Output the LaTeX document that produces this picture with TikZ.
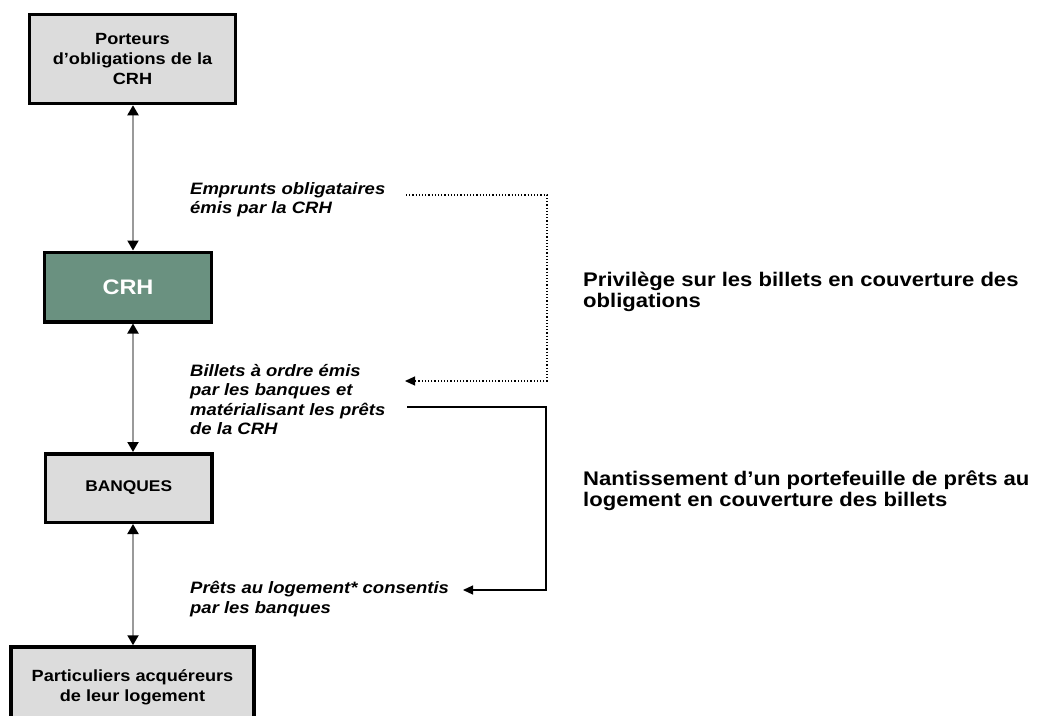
\documentclass[tikz,border=0pt]{standalone}
\usepackage{fontspec}
\setmainfont{Liberation Sans}[FakeStretch=1.12]
\usetikzlibrary{arrows.meta}
\definecolor{boxgray}{HTML}{DCDCDC}
\definecolor{crhgreen}{HTML}{6A9180}
\definecolor{linegray}{HTML}{9A9A9A}
\begin{document}
\begin{tikzpicture}[x=1pt,y=-1pt,
  box/.style={draw=black, line width=3.5pt, fill=boxgray, align=center, inner sep=0pt,
    font=\bfseries\fontsize{16.2}{20}\selectfont},
  lbl/.style={anchor=north west, align=left, inner sep=0pt,
    font=\bfseries\itshape\fontsize{16.5}{19.5}\selectfont},
  side/.style={anchor=north west, align=left, inner sep=0pt,
    font=\bfseries\fontsize{19.7}{20.5}\selectfont},
  biarrow/.style={draw=linegray, line width=2pt,
    {Triangle[length=10pt,width=11pt,color=black]}-{Triangle[length=10pt,width=11pt,color=black]}},
  link/.style={draw=black, line width=1.2pt, -{Triangle[length=10pt,width=9pt]}},
  dotlink/.style={link, dotted}]
\useasboundingbox (0,0) rectangle (1041,715);

\node[box, minimum width=206pt, minimum height=89pt] (porteurs) at (132.5,59)
  {Porteurs\\d’obligations de la\\CRH};
\node[box, fill=crhgreen, text=white, font=\bfseries\fontsize{21}{24}\selectfont,
  minimum width=167pt, minimum height=69.5pt] (crh) at (128,287) {CRH};
\node[box, font=\bfseries\fontsize{15.5}{18}\selectfont,
  minimum width=166.5pt, minimum height=68.5pt] (banques) at (128.75,488) {BANQUES};
\node[box, minimum width=243pt, minimum height=80pt] (part) at (132.5,687)
  {Particuliers acquéreurs\\de leur logement};

\coordinate (ax) at (133,0);
\draw[biarrow] (porteurs.south -| ax) -- (crh.north -| ax);
\draw[biarrow] (crh.south -| ax) -- (banques.north -| ax);
\draw[biarrow] (banques.south -| ax) -- (part.north -| ax);

\node[lbl] (emprunts) at (190,182) {Emprunts obligataires\\émis par la CRH};
\node[lbl] (billets) at (190,364) {Billets à ordre émis\\par les banques et\\matérialisant les prêts\\de la CRH};
\node[lbl] (prets) at (190,581) {Prêts au logement* consentis\\par les banques};

\node[side] (privilege) at (583,272) {Privilège sur les billets en couverture des\\obligations};
\node[side] (nantissement) at (583,471) {Nantissement d’un portefeuille de prêts au\\logement en couverture des billets};

\coordinate (dotstart) at (406,195);
\coordinate (dotend) at (405,381);
\draw[dotlink] (dotstart) -- ++(141,0) |- (dotend);
\coordinate (solstart) at (407,407);
\coordinate (solend) at (463,590);
\draw[link] (solstart) -- ++(139,0) |- (solend);
\end{tikzpicture}
\end{document}
